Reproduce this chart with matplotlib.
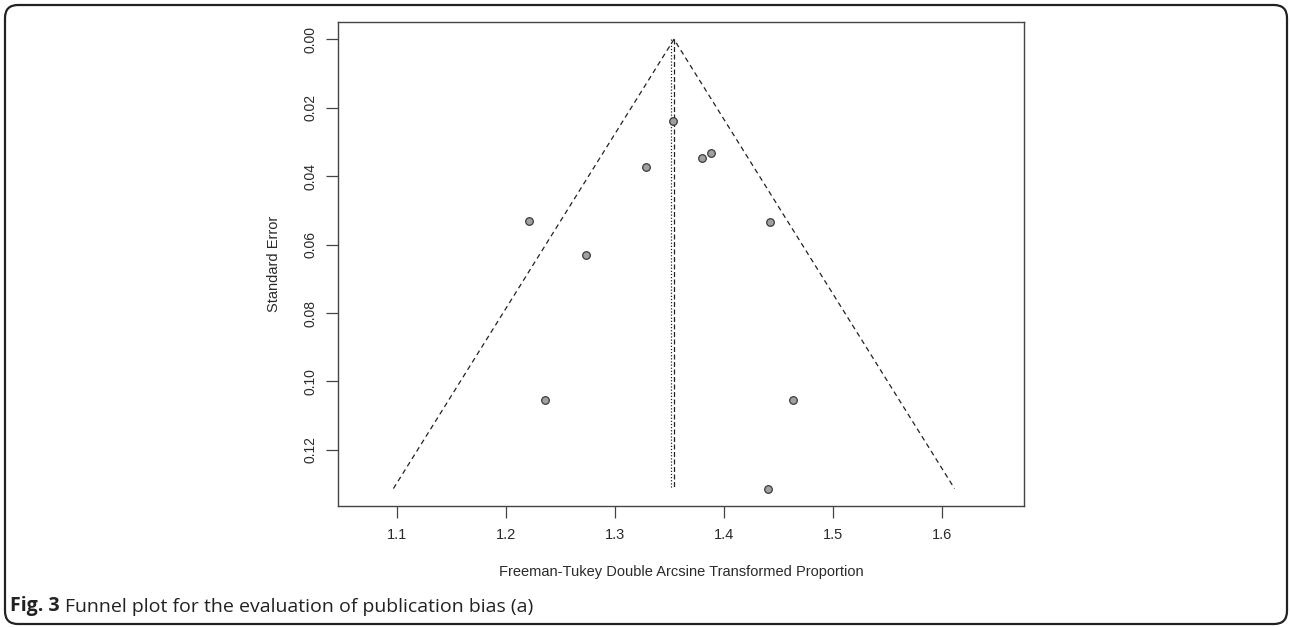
import matplotlib
matplotlib.use("Agg")
import matplotlib.pyplot as plt
from matplotlib.patches import FancyBboxPatch
import numpy as np

# Study estimates (Freeman-Tukey transformed proportion) and standard errors
effect = [1.3538, 1.3284, 1.3804, 1.3886, 1.2217, 1.2734, 1.4425, 1.2360, 1.4636, 1.4404]
std_err = [0.0239, 0.0372, 0.0348, 0.0333, 0.0531, 0.0629, 0.0534, 0.1054, 0.1054, 0.1313]
fixed_est = 1.3514
random_est = 1.3544
x_ticks = [1.1, 1.2, 1.3, 1.4, 1.5, 1.6]
y_ticks = [0.00, 0.02, 0.04, 0.06, 0.08, 0.10, 0.12]

W, H = 1290, 627
fig = plt.figure(figsize=(W / 100, H / 100), dpi=100)
plt.rcParams['font.family'] = ['Liberation Sans', 'DejaVu Sans']

# rounded outer frame
frame = FancyBboxPatch((5, 3), 1282, 619, boxstyle="round,pad=0,rounding_size=13",
                       transform=None, fill=False, edgecolor='#222222', linewidth=1.6)
fig.add_artist(frame)

L, R, T, B = 338, 1024, 22, 506
ax = fig.add_axes([L / W, (H - B) / H, (R - L) / W, (B - T) / H])

se_max = max(std_err)
# funnel lines
ax.plot([random_est - 1.96 * se_max, random_est, random_est + 1.96 * se_max],
        [se_max, 0, se_max], color='#222222', lw=0.9, linestyle=(0, (4, 3)))
ax.plot([fixed_est, fixed_est], [0, se_max], color='#222222', lw=0.9, linestyle=(0, (1, 1.5)))
ax.plot([random_est, random_est], [0, se_max], color='#222222', lw=0.9, linestyle=(0, (4, 2)))

ax.scatter(effect, std_err, s=30, facecolor='#a0a0a0', edgecolor='#3a3a3a', linewidth=0.9, zorder=3)

ax.set_xlim(1.0462, 1.6755)
ax.set_ylim(0.1364, -0.00506)
ax.set_xticks(x_ticks)
ax.set_xticklabels([f"{v:.1f}" for v in x_ticks])
ax.set_yticks(y_ticks)
ax.set_yticklabels([f"{v:.2f}" for v in y_ticks], rotation=90, va='center')

for sp in ax.spines.values():
    sp.set_color('#444444')
    sp.set_linewidth(1.0)
ax.tick_params(axis='both', direction='out', length=8.5, width=0.9, color='#444444',
               labelcolor='#2a2a2a')
ax.tick_params(axis='x', labelsize=10.5, pad=7)
ax.tick_params(axis='y', labelsize=10, pad=6)

ax.set_xlabel("Freeman-Tukey Double Arcsine Transformed Proportion", fontsize=10.5, color='#2a2a2a')
ax.xaxis.set_label_coords(0.5, (B - 572) / (B - T))
ax.xaxis.label.set_va('center')
ax.set_ylabel("Standard Error", fontsize=10.5, color='#2a2a2a')
ax.yaxis.set_label_coords((274 - L) / (R - L), 0.5)
ax.yaxis.label.set_va('center')

# caption: bold "Fig. 3" followed by regular text
fig.canvas.draw()
r = fig.canvas.get_renderer()
cap_y = 1 - 611.5 / H
t1 = fig.text(10 / W, cap_y, "Fig. 3", fontsize=14, fontweight='bold',
              family=['Open Sans', 'DejaVu Sans'], color='#222222', va='baseline')
bb = t1.get_window_extent(renderer=r)
fig.text((bb.x1 + 5) / W, cap_y, "Funnel plot for the evaluation of publication bias (a)",
         fontsize=14, family=['Open Sans', 'DejaVu Sans'], color='#222222', va='baseline')

fig.savefig("out.png", dpi=100)
